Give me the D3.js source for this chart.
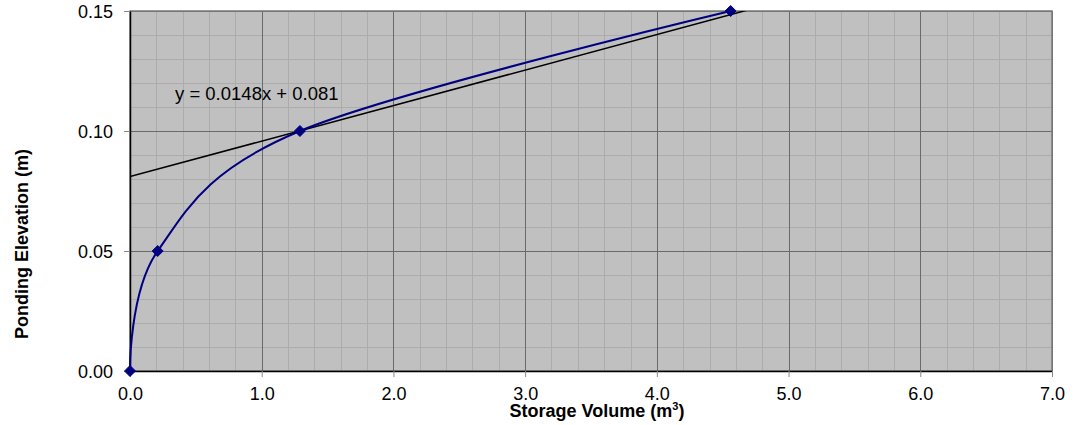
<!DOCTYPE html>
<html>
<head>
<meta charset="utf-8">
<script src="https://cdn.jsdelivr.net/npm/d3@7"></script>
<style>
  html, body { margin: 0; padding: 0; background: #ffffff; }
  svg { display: block; font-family: "Liberation Sans", Arial, sans-serif; }
</style>
</head>
<body>
<svg id="chart" width="1076" height="425"></svg>
<script>
// Stage–storage relationship
const storageVolume = [0.0, 0.21, 1.29, 4.56];
const pondingElevation = [0.00, 0.05, 0.10, 0.15];

// Linear fit shown on the chart
const fitSlope = 0.0148;
const fitIntercept = 0.081;
const fitRange = [0, 4.75];

const xTicks = [0, 1, 2, 3, 4, 5, 6, 7];
const yTicks = [0, 0.05, 0.10, 0.15];

const svg = d3.select("#chart");
const margin = { left: 130, right: 24, top: 11, bottom: 54 };
const W = 1076, H = 425;
const x = d3.scaleLinear().domain([0, 7]).range([margin.left, W - margin.right]);
const y = d3.scaleLinear().domain([0, 0.15]).range([H - margin.bottom, margin.top]);

// Plot background
svg.append("rect")
  .attr("x", x(0)).attr("y", y(0.15))
  .attr("width", x(7) - x(0)).attr("height", y(0) - y(0.15))
  .attr("fill", "#c0c0c0");

// Minor grid: 0.2 m³ and 0.01 m
const xMinor = d3.range(0, 36).map(i => i * 0.2);
const yMinor = d3.range(0, 16).map(i => i * 0.01);
svg.append("g").selectAll("line").data(xMinor).join("line")
  .attr("x1", d => Math.round(x(d)) + 0.5).attr("x2", d => Math.round(x(d)) + 0.5)
  .attr("y1", y(0)).attr("y2", y(0.15))
  .attr("stroke", "#acacac").attr("stroke-width", 1);
svg.append("g").selectAll("line").data(yMinor).join("line")
  .attr("y1", d => Math.round(y(d)) + 0.5).attr("y2", d => Math.round(y(d)) + 0.5)
  .attr("x1", x(0)).attr("x2", x(7))
  .attr("stroke", "#acacac").attr("stroke-width", 1);

// Major grid
svg.append("g").selectAll("line").data(xTicks).join("line")
  .attr("x1", d => Math.round(x(d)) + 0.5).attr("x2", d => Math.round(x(d)) + 0.5)
  .attr("y1", y(0)).attr("y2", y(0.15))
  .attr("stroke", "#6a6a6a").attr("stroke-width", 1);
svg.append("g").selectAll("line").data(yTicks).join("line")
  .attr("y1", d => Math.round(y(d)) + 0.5).attr("y2", d => Math.round(y(d)) + 0.5)
  .attr("x1", x(0)).attr("x2", x(7))
  .attr("stroke", "#6a6a6a").attr("stroke-width", 1);

// Plot frame
svg.append("rect")
  .attr("x", x(0)).attr("y", y(0.15))
  .attr("width", x(7) - x(0)).attr("height", y(0) - y(0.15))
  .attr("fill", "none").attr("stroke", "#7a7a7a").attr("stroke-width", 1.5);

// Axes
const xAxis = d3.axisBottom(x).tickValues(xTicks).tickFormat(d3.format(".1f")).tickSize(6).tickSizeOuter(0);
const yAxis = d3.axisLeft(y).tickValues(yTicks).tickFormat(d3.format(".2f")).tickSize(6).tickSizeOuter(0);

const gx = svg.append("g").attr("transform", `translate(0,${y(0)})`).call(xAxis);
gx.attr("font-family", null).attr("font-size", null);
gx.select(".domain").attr("stroke", "#000").attr("stroke-width", 1.5);
gx.selectAll(".tick line").attr("stroke", "#888");
gx.selectAll(".tick text").attr("font-size", 18).attr("fill", "#000").attr("y", 29).attr("dy", null);

const gy = svg.append("g").attr("transform", `translate(${x(0)},0)`).call(yAxis);
gy.attr("font-family", null).attr("font-size", null);
gy.select(".domain").attr("stroke", "#000").attr("stroke-width", 1.5);
gy.selectAll(".tick line").attr("stroke", "#888");
gy.selectAll(".tick text").attr("font-size", 18).attr("fill", "#000").attr("x", -17).attr("dy", "0.36em");

// Clip for series
svg.append("clipPath").attr("id", "plotClip").append("rect")
  .attr("x", x(0)).attr("y", y(0.15))
  .attr("width", x(7) - x(0)).attr("height", y(0) - y(0.15));

// Trendline
svg.append("line")
  .attr("clip-path", "url(#plotClip)")
  .attr("x1", x(fitRange[0])).attr("y1", y(fitSlope * fitRange[0] + fitIntercept))
  .attr("x2", x(fitRange[1])).attr("y2", y(fitSlope * fitRange[1] + fitIntercept))
  .attr("stroke", "#000").attr("stroke-width", 1.5);

// Smoothed series line
const pts = storageVolume.map((v, i) => [v, pondingElevation[i]]);
const line = d3.line().x(d => x(d[0])).y(d => y(d[1])).curve(d3.curveCardinal.tension(0));
svg.append("path").datum(pts)
  .attr("d", line)
  .attr("fill", "none").attr("stroke", "#000080").attr("stroke-width", 2);

// Diamond markers
svg.append("g").selectAll("path").data(pts).join("path")
  .attr("transform", d => `translate(${x(d[0])},${y(d[1])})`)
  .attr("d", "M0,-5.5L5.5,0L0,5.5L-5.5,0Z")
  .attr("fill", "#000080").attr("stroke", "#000080").attr("stroke-width", 1);

// Fit equation label
svg.append("text")
  .attr("x", 175).attr("y", 100)
  .attr("font-size", 18.5).attr("fill", "#000")
  .text(`y = ${fitSlope}x + ${fitIntercept}`);

// Axis titles
const xt = svg.append("text")
  .attr("x", 597).attr("y", 417)
  .attr("text-anchor", "middle")
  .attr("font-size", 18).attr("font-weight", "bold").attr("fill", "#000");
xt.append("tspan").text("Storage Volume (m");
xt.append("tspan").attr("font-size", 11).attr("dy", -7).text("3");
xt.append("tspan").attr("dy", 7).text(")");

svg.append("text")
  .attr("transform", "translate(28,244) rotate(-90)")
  .attr("text-anchor", "middle")
  .attr("font-size", 18).attr("font-weight", "bold").attr("fill", "#000")
  .text("Ponding Elevation (m)");
</script>
</body>
</html>
